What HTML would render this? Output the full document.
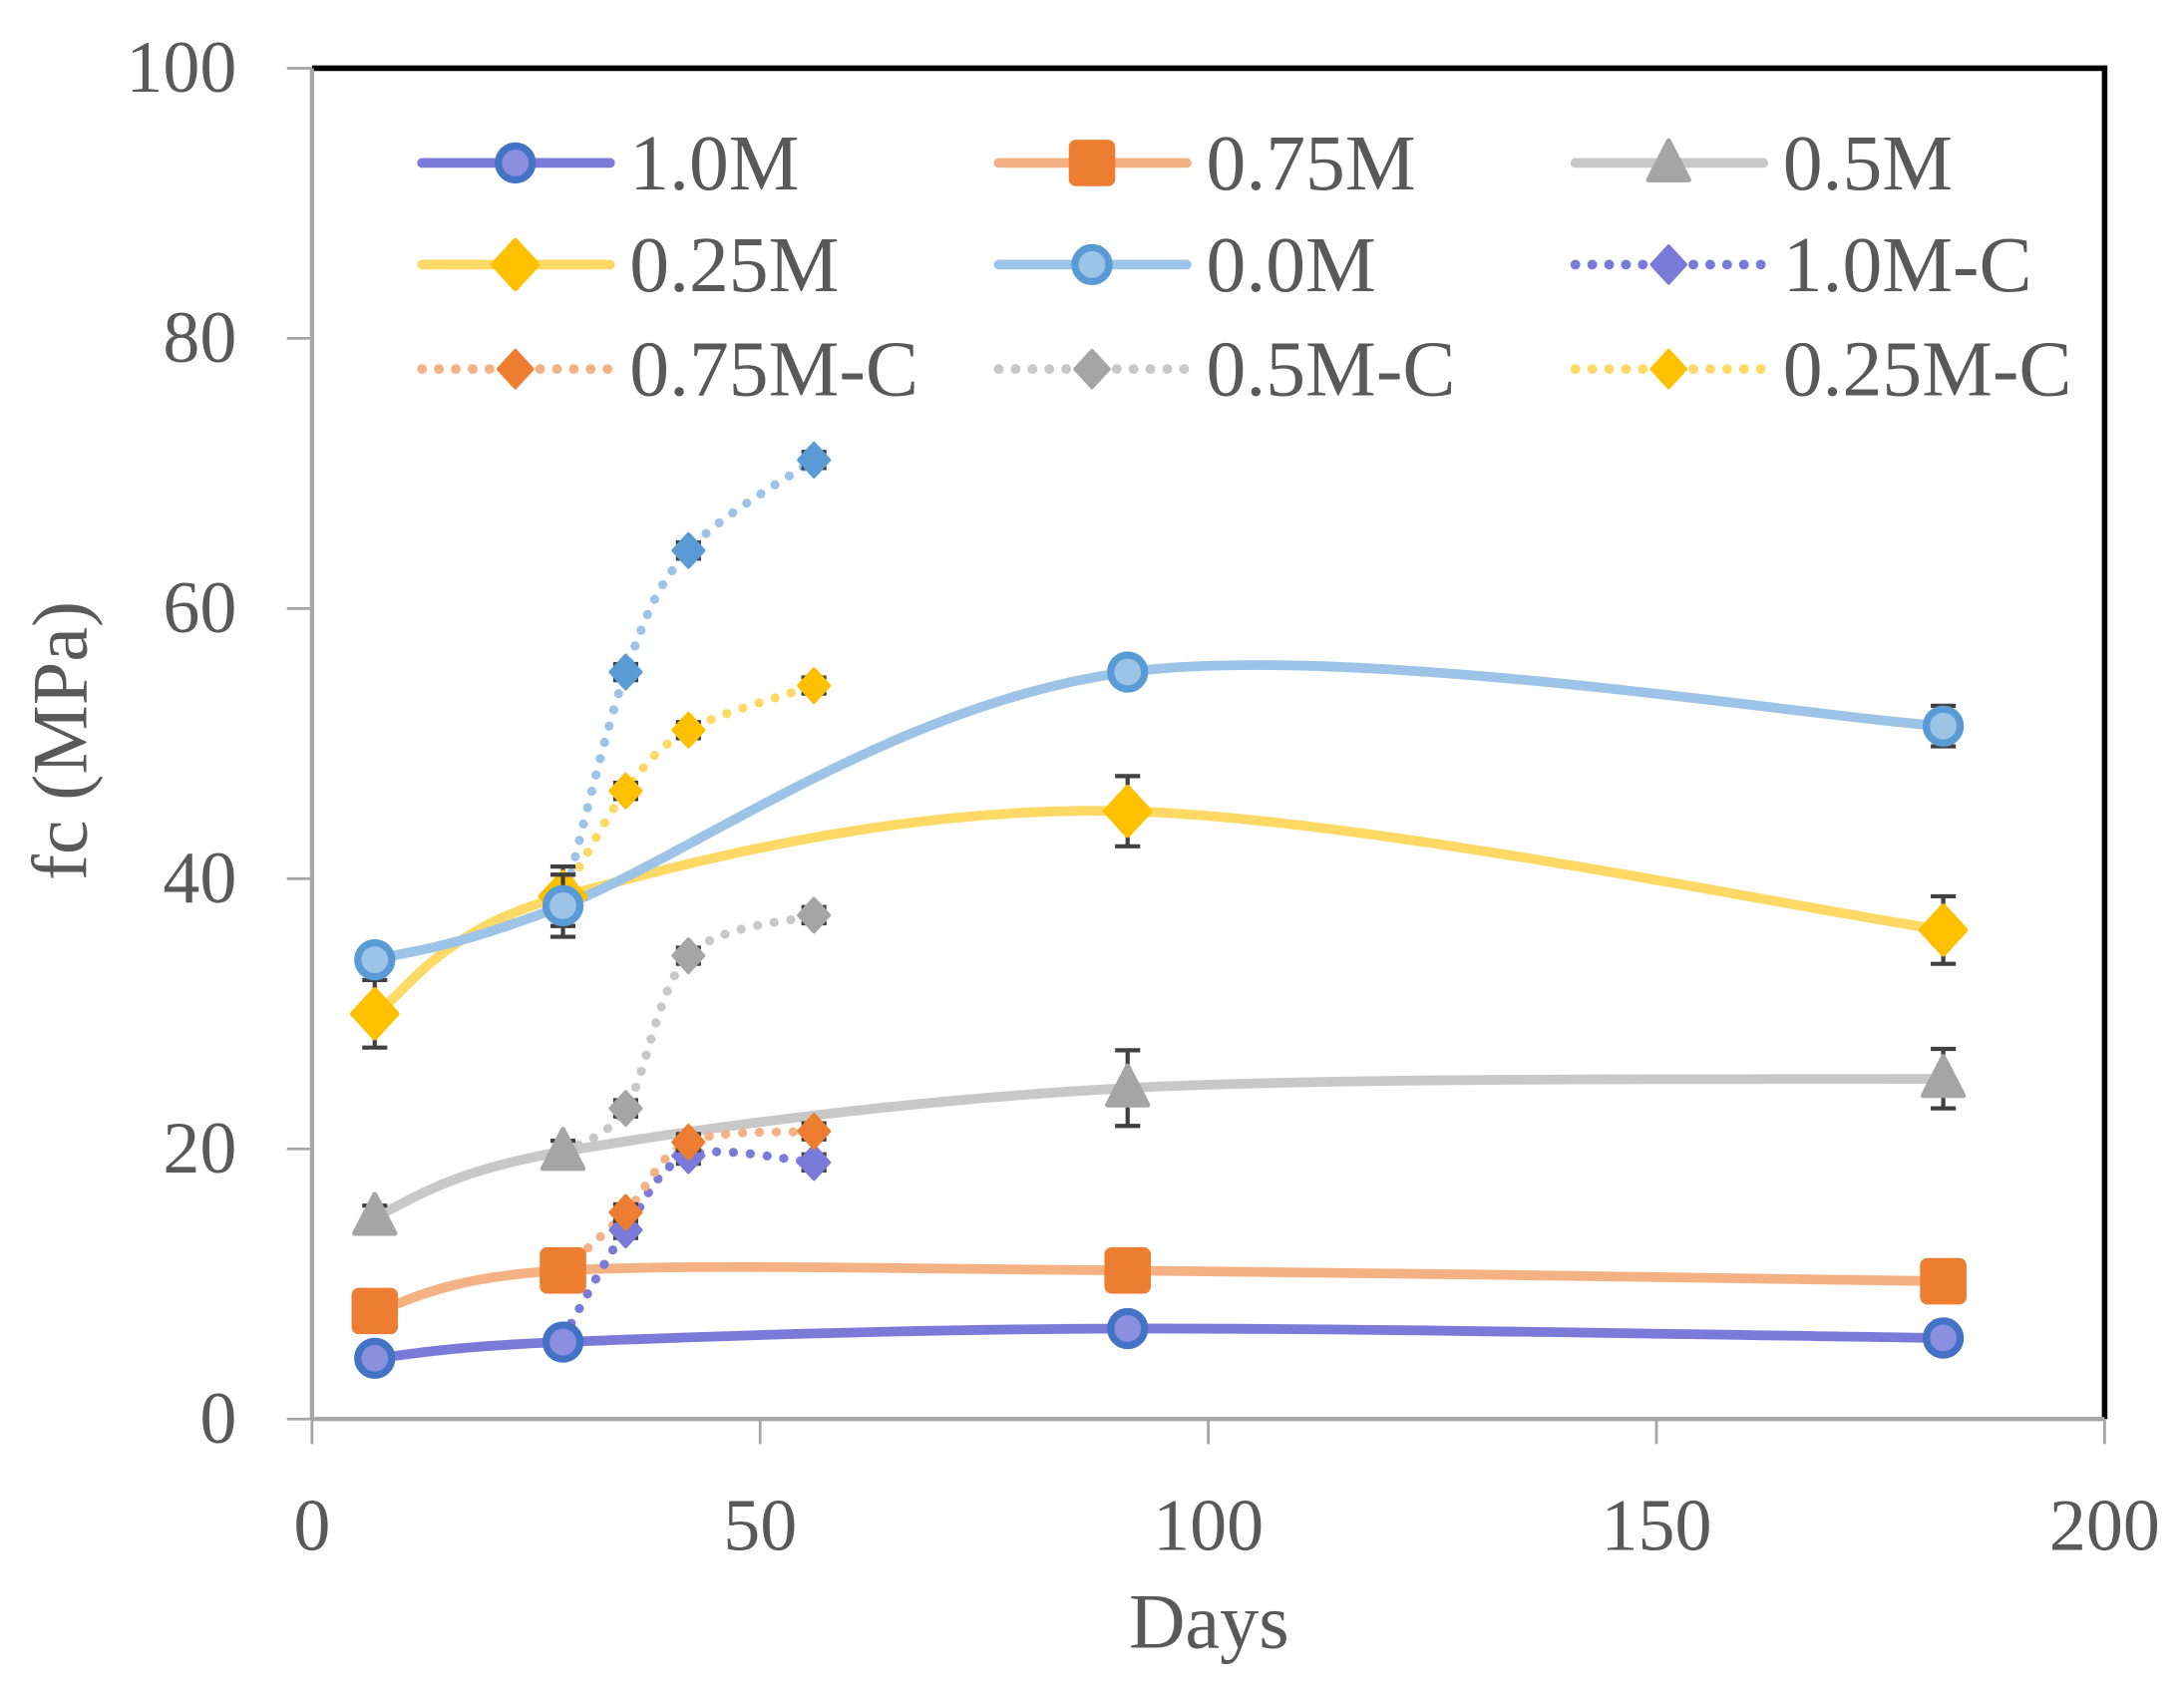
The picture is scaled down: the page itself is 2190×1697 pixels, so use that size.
<!DOCTYPE html>
<html><head><meta charset="utf-8"><style>
html,body{margin:0;padding:0;background:#fff;}
svg{display:block;}
text{font-family:"Liberation Serif",serif;fill:#595959;}
</style></head><body>
<svg id="s" width="2190" height="1697" viewBox="0 0 1568 1215" preserveAspectRatio="none" xmlns="http://www.w3.org/2000/svg">
<rect width="1568" height="1215" fill="#fff"/>
<g id="g"></g>
</svg>
<script>
const g=document.getElementById('g');let h='';
const X=d=>224+6.435*d, Y=v=>1019-9.70*v;
h+='<line x1="224" y1="49" x2="1511" y2="49" stroke="#000" stroke-width="4"/>';
h+='<line x1="1511" y1="47" x2="1511" y2="1019" stroke="#000" stroke-width="4"/>';
h+='<line x1="224" y1="49" x2="224" y2="1019" stroke="#a6a6a6" stroke-width="3"/>';
h+='<line x1="224" y1="1019" x2="1511" y2="1019" stroke="#a6a6a6" stroke-width="3"/>';
for(let v=0;v<=100;v+=20){h+=`<line x1="206" y1="${Y(v)}" x2="224" y2="${Y(v)}" stroke="#a6a6a6" stroke-width="2"/>`;
h+=`<text x="170" y="${Y(v)+17}" font-size="53" text-anchor="end">${v}</text>`;}
for(let d=0;d<=200;d+=50){h+=`<line x1="${X(d)}" y1="1019" x2="${X(d)}" y2="1037" stroke="#a6a6a6" stroke-width="2"/>`;
h+=`<text x="${X(d)}" y="1113" font-size="53" text-anchor="middle">${d}</text>`;}
h+='<text x="868" y="1183" font-size="56" text-anchor="middle">Days</text>';
h+='<text transform="translate(62,532) rotate(-90)" font-size="56" text-anchor="middle">fc (MPa)</text>';
function path(pts){let p=pts.map(a=>[X(a[0]),Y(a[1])]);let s=`M${p[0][0]},${p[0][1]}`;
for(let i=0;i<p.length-1;i++){const p0=p[i-1]||p[i],p1=p[i],p2=p[i+1],p3=p[i+2]||p2;const t=6;
s+=` C${p1[0]+(p2[0]-p0[0])/t},${p1[1]+(p2[1]-p0[1])/t} ${p2[0]-(p3[0]-p1[0])/t},${p2[1]-(p3[1]-p1[1])/t} ${p2[0]},${p2[1]}`;}return s;}
function marker(type,x,y,sz,fill,stroke){
 if(type=='circle')return `<circle cx="${x}" cy="${y}" r="${sz*0.42}" fill="${fill}" stroke="${stroke}" stroke-width="${sz*0.18}"/>`;
 if(type=='square')return `<rect x="${x-sz/2}" y="${y-sz/2}" width="${sz}" height="${sz}" rx="3" fill="${fill}" stroke="${stroke}" stroke-width="${sz*0.15}"/>`;
 if(type=='tri')return `<polygon points="${x},${y-sz*0.55} ${x+sz*0.5},${y+sz*0.42} ${x-sz*0.5},${y+sz*0.42}" fill="${fill}" stroke="${stroke}" stroke-width="${sz*0.12}" stroke-linejoin="round"/>`;
 return `<polygon points="${x},${y-sz*0.6} ${x+sz*0.55},${y} ${x},${y+sz*0.6} ${x-sz*0.55},${y}" fill="${fill}" stroke="${stroke}" stroke-width="${sz*0.12}" stroke-linejoin="round"/>`;}
function eb(d,v,e){const x=X(d),y1=Y(v+e),y2=Y(v-e);return `<line x1="${x}" y1="${y1}" x2="${x}" y2="${y2}" stroke="#404040" stroke-width="3"/><line x1="${x-9}" y1="${y1}" x2="${x+9}" y2="${y1}" stroke="#404040" stroke-width="3"/><line x1="${x-9}" y1="${y2}" x2="${x+9}" y2="${y2}" stroke="#404040" stroke-width="3"/>`;}
const D=[7,28,91,182],DC=[28,35,42,56];
const S=[
 {pts:[4.5,5.7,6.7,6.0],line:'#7b7ad8',mk:'circle',mf:'#8a8fe0',ms:'#4472c4',e:[0.5,0.5,0.5,0.5]},
 {pts:[8,11,11,10.2],line:'#f4b183',mk:'square',mf:'#ed7d31',ms:'#ed7d31',e:[0.6,0.6,0.6,0.6]},
 {pts:[15,19.8,24.5,25.2],line:'#c8c8c8',mk:'tri',mf:'#a5a5a5',ms:'#a5a5a5',e:[0.8,0.8,2.8,2.2]},
 {pts:[30,38.7,45,36.2],line:'#ffd966',mk:'diamond',mf:'#ffc000',ms:'#ffc000',e:[2.5,2.2,2.6,2.5]},
 {pts:[34,38,55.3,51.3],line:'#9dc3e6',mk:'circle',mf:'#9dc3e6',ms:'#5b9bd5',e:[0.8,2.3,0.8,1.5]},
];
const C=[
 {pts:[6,14,19.5,19],line:'#7b7ad8',mf:'#7b7ad8'},
 {pts:[11,15.3,20.5,21.3],line:'#f4b183',mf:'#ed7d31'},
 {pts:[19.8,23,34.3,37.3],line:'#c8c8c8',mf:'#a5a5a5'},
 {pts:[38.7,46.5,51,54.3],line:'#ffd966',mf:'#ffc000'},
 {pts:[38,55.3,64.3,71],line:'#9dc3e6',mf:'#5b9bd5'},
];
S.forEach(s=>{h+=`<path d="${path(D.map((d,i)=>[d,s.pts[i]]))}" fill="none" stroke="${s.line}" stroke-width="7" stroke-linecap="round"/>`;});
C.forEach(s=>{h+=`<path d="${path(DC.map((d,i)=>[d,s.pts[i]]))}" fill="none" stroke="${s.line}" stroke-width="6.5" stroke-dasharray="0.1 12" stroke-linecap="round"/>`;});
S.forEach(s=>{D.forEach((d,i)=>{h+=eb(d,s.pts[i],s.e[i]);h+=marker(s.mk,X(d),Y(s.pts[i]),29,s.mf,s.ms);});});
C.forEach(s=>{DC.forEach((d,i)=>{if(i==0)return;h+=eb(d,s.pts[i],0.6);h+=marker('diamond',X(d),Y(s.pts[i]),20,s.mf,s.mf);});});
const L=[
 ['1.0M','#7b7ad8','circle','#8a8fe0','#4472c4',0],['0.75M','#f4b183','square','#ed7d31','#ed7d31',0],['0.5M','#c8c8c8','tri','#a5a5a5','#a5a5a5',0],
 ['0.25M','#ffd966','diamond','#ffc000','#ffc000',0],['0.0M','#9dc3e6','circle','#9dc3e6','#5b9bd5',0],['1.0M-C','#7b7ad8','diamond','#7b7ad8','#7b7ad8',1],
 ['0.75M-C','#f4b183','diamond','#ed7d31','#ed7d31',1],['0.5M-C','#c8c8c8','diamond','#a5a5a5','#a5a5a5',1],['0.25M-C','#ffd966','diamond','#ffc000','#ffc000',1]];
L.forEach((l,i)=>{const c=i%3,r=Math.floor(i/3);const x0=[303,717,1131][c],y=[117,190,265][r];
 h+=`<line x1="${x0}" y1="${y}" x2="${x0+135}" y2="${y}" stroke="${l[1]}" stroke-width="7" stroke-linecap="round" ${l[5]?'stroke-dasharray="0.1 12"':''}/>`;
 h+=marker(l[2],x0+67,y,l[5]?22:29,l[3],l[4]);
 h+=`<text x="${x0+149}" y="${y+19}" font-size="57">${l[0]}</text>`;});
g.innerHTML=h;
</script>
</body></html>
